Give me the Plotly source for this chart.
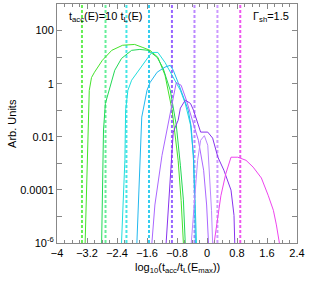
import plotly.graph_objects as go

# vertical dashed lines: t_acc(E) = 10 t_L(E)
vline_x = [-3.334, -2.706, -2.148, -1.547, -0.935, -0.334, 0.278, 0.887]
vline_colors = ["#66ee55", "#66ee99", "#44e6e6", "#33ccee", "#9966ff", "#bb88ff", "#cc99ff", "#ee55ee"]

c1_x = [-3.25, -3.22, -3.19, -3.16, -3.14, -3.08, -3.00, -2.79, -2.54, -2.25, -1.93, -1.71, -1.52, -1.31, -1.12, -0.93, -0.77, -0.69, -0.63]
c1_y = [1e-6, 4e-5, 1.3e-3, 0.04, 0.56, 1.7, 2.7, 7.6, 18, 28, 30, 23, 18, 9.8, 2.1, 0.1, 1.3e-3, 4e-5, 1e-6]

c2_x = [-2.81, -2.79, -2.76, -2.71, -2.60, -2.46, -2.28, -2.01, -1.79, -1.57, -1.33, -1.17, -0.98, -0.82, -0.71, -0.63, -0.58]
c2_y = [1e-6, 9.8e-5, 0.018, 0.18, 0.68, 3.2, 8.9, 18, 19.5, 18, 9.8, 3.8, 0.56, 0.028, 8.5e-4, 4.2e-5, 1e-6]

c3_x = [-2.28, -2.22, -2.19, -2.17, -2.11, -2.01, -1.79, -1.57, -1.47, -1.31, -1.12, -0.90, -0.71, -0.58, -0.44, -0.36, -0.31, -0.28]
c3_y = [1e-6, 9.8e-5, 1.3e-3, 0.1, 0.56, 1.35, 3.8, 9.8, 15, 15, 6.3, 1.7, 0.56, 0.18, 0.028, 2e-3, 4.2e-5, 1e-6]

c4_x = [-1.87, -1.82, -1.79, -1.74, -1.60, -1.52, -1.33, -1.12, -0.98, -0.90, -0.77, -0.63, -0.50, -0.42, -0.36, -0.33, -0.31]
c4_y = [1e-6, 9.8e-5, 1.3e-3, 0.055, 0.56, 1.1, 2.7, 4.2, 4.9, 3.2, 1.1, 0.31, 0.1, 0.023, 1.3e-3, 4.2e-5, 1e-6]

c5_x = [-1.47, -1.39, -1.20, -1.04, -0.93, -0.82, -0.69, -0.55, -0.39, -0.23, -0.09, -0.01, 0.04]
c5_y = [1e-6, 2.7e-5, 2e-3, 0.028, 0.24, 1.1, 0.87, 0.24, 0.042, 7.4e-3, 5.5e-4, 2.7e-5, 1e-6]

c6_x = [-1.09, -0.98, -0.90, -0.77, -0.71, -0.58, -0.44, -0.36, -0.25, -0.17, 0.02, 0.15, 0.29, 0.45, 0.64, 0.72, 0.74]
c6_y = [1e-6, 2.3e-4, 0.015, 0.042, 0.12, 0.24, 0.18, 0.1, 0.032, 0.015, 0.015, 8.9e-3, 1.7e-3, 5.5e-4, 9.8e-5, 1.1e-5, 1e-6]

c7_x = [-0.42, -0.33, -0.25, -0.17, -0.07, 0.02, 0.07, 0.12, 0.15]
c7_y = [1e-6, 4.2e-5, 1.3e-3, 7.4e-3, 0.011, 4.8e-3, 3.6e-4, 1.7e-5, 1e-6]

c8_x = [0.19, 0.30, 0.37, 0.50, 0.64, 0.82, 1.04, 1.23, 1.45, 1.63, 1.77, 1.85, 1.93]
c8_y = [1e-6, 1e-5, 6e-5, 4e-4, 1.7e-3, 1.7e-3, 1.3e-3, 7.2e-4, 2.8e-4, 6.3e-5, 1.7e-5, 4.8e-6, 1e-6]

curves = [(c1_x, c1_y), (c2_x, c2_y), (c3_x, c3_y), (c4_x, c4_y),
          (c5_x, c5_y), (c6_x, c6_y), (c7_x, c7_y), (c8_x, c8_y)]
curve_colors = ["#44e22a", "#22d855", "#22dddd", "#22b8ee", "#aa66ff", "#8833ee", "#bb88ff", "#ee44ee"]

y_tickvals = [1e-6, 1e-5, 1e-4, 1e-3, 1e-2, 1e-1, 1, 10, 100]
y_ticktext = ["10<sup>-6</sup>", "", "0.0001", "", "0.01", "", "1", "", "100"]

x_range = [-4, 2.4]
y_range = [1e-6, 1e3]

FONT = "Liberation Sans, Arial"

fig = go.Figure()
for xv, col in zip(vline_x, vline_colors):
    fig.add_trace(go.Scatter(x=[xv, xv], y=y_range, mode="lines",
                             line=dict(color=col, width=2, dash="3px,2px"),
                             showlegend=False, hoverinfo="skip"))
for (cx, cy), col in zip(curves, curve_colors):
    fig.add_trace(go.Scatter(x=cx, y=cy, mode="lines",
                             line=dict(color=col, width=1),
                             showlegend=False))

axis_common = dict(showline=True, linecolor="#888888", linewidth=1, mirror="ticks",
                   ticks="inside", tickcolor="#888888", showgrid=False, zeroline=False,
                   automargin=False,
                   tickfont=dict(family=FONT, size=11, color="black"))

fig.update_xaxes(range=x_range, tick0=-4, dtick=0.8, ticklen=5,
                 minor=dict(dtick=0.2, ticks="inside", ticklen=3, tickcolor="#888888"),
                 **axis_common)
fig.update_yaxes(type="log", range=[-6, 3], tickmode="array", tickvals=y_tickvals,
                 ticktext=y_ticktext, ticklen=5,
                 **axis_common)

ann_font = dict(family=FONT, size=11, color="black")
fig.add_annotation(x=0.5, y=-0.105, xref="paper", yref="paper", xanchor="center", yanchor="middle",
                   text="log<sub>10</sub>(t<sub>acc</sub>/t<sub>L</sub>(E<sub>max</sub>))",
                   showarrow=False, font=ann_font)
fig.add_annotation(x=-0.19, y=0.5, xref="paper", yref="paper", xanchor="center", yanchor="middle",
                   textangle=-90, text="Arb. Units", showarrow=False, font=ann_font)
fig.add_annotation(x=0.2, y=0.945, xref="paper", yref="paper", xanchor="center", yanchor="middle",
                   text="t<sub>acc</sub>(E)=10 t<sub>L</sub>(E)", showarrow=False, font=ann_font)
fig.add_annotation(x=0.893, y=0.945, xref="paper", yref="paper", xanchor="center", yanchor="middle",
                   text="Γ<sub>sh</sub>=1.5", showarrow=False, font=ann_font)

fig.update_layout(width=310, height=282, margin=dict(l=57, r=13, t=4, b=39),
                  paper_bgcolor="white", plot_bgcolor="white", showlegend=False)

fig.write_html("out.html", config={"displayModeBar": False, "staticPlot": True},
               post_script="document.body.style.margin='0px';document.body.style.overflow='hidden';")
